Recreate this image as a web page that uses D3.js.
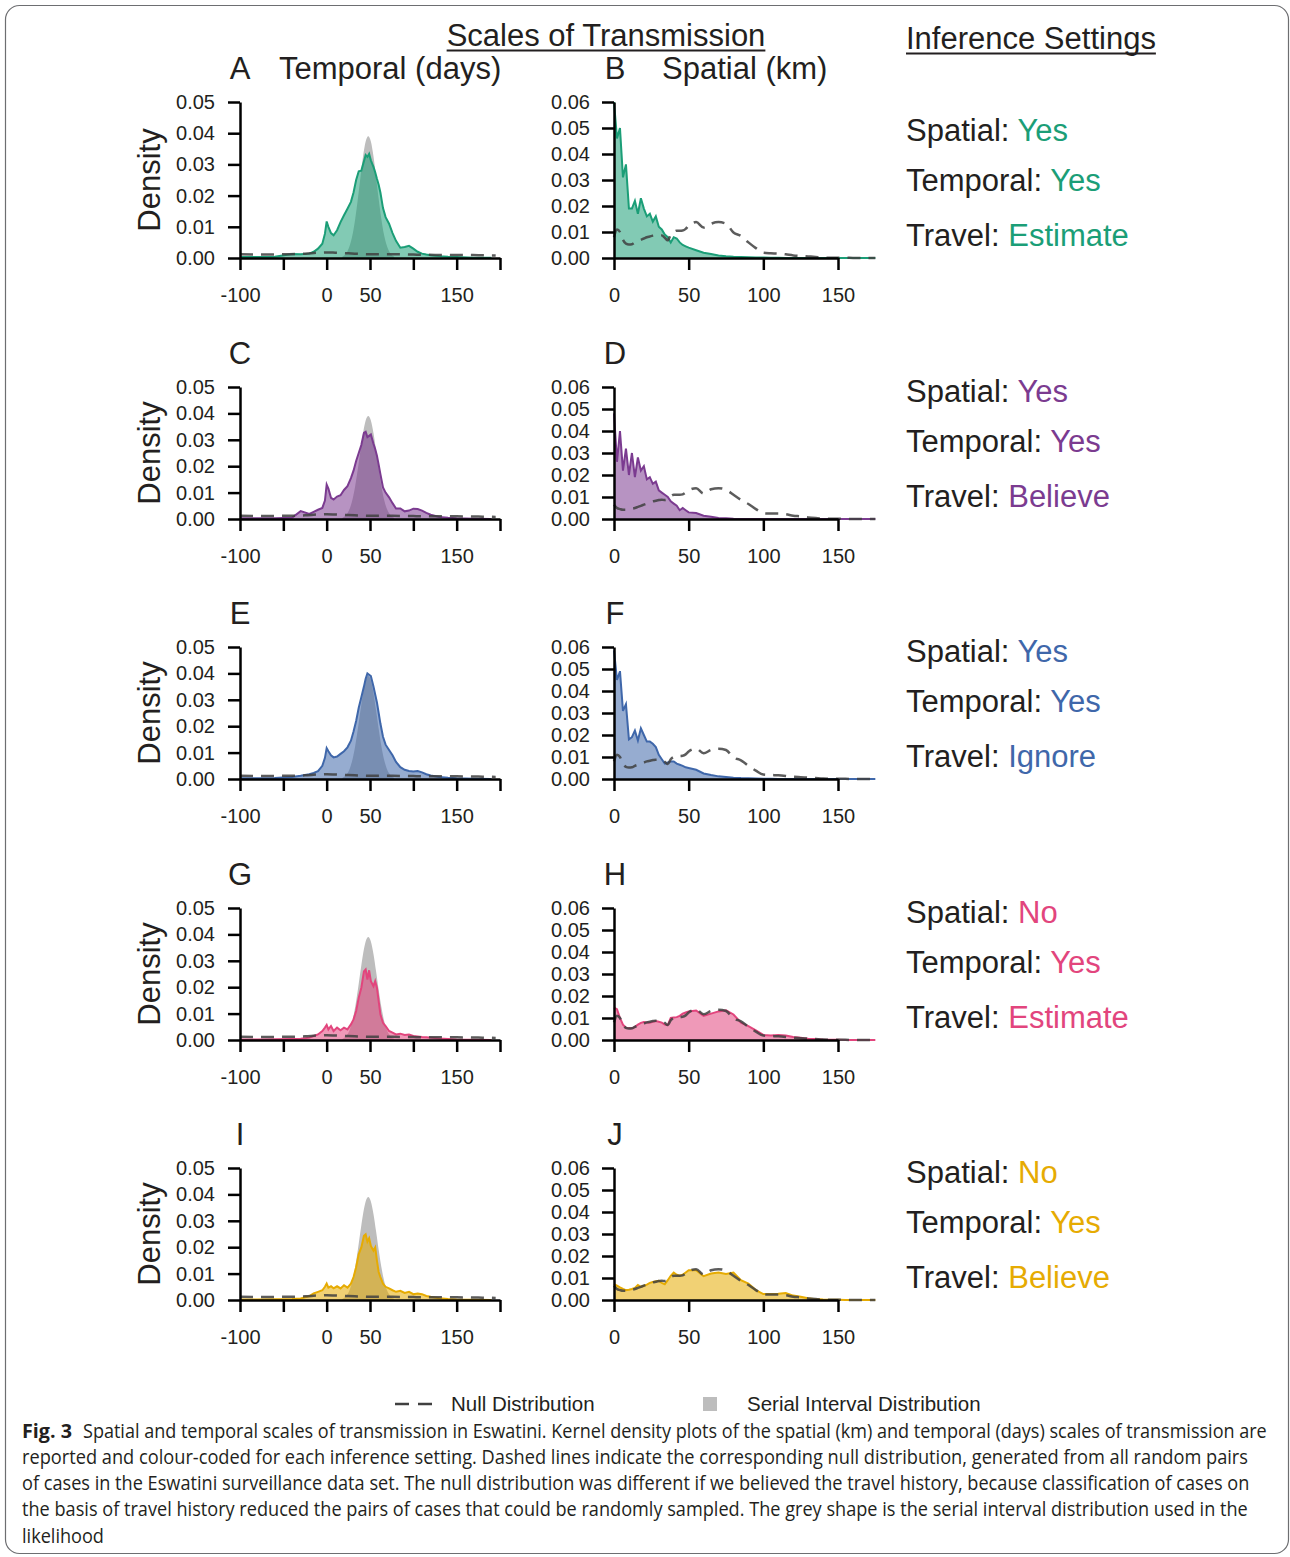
<!DOCTYPE html>
<html>
<head>
<meta charset="utf-8">
<script src="https://cdn.jsdelivr.net/npm/d3@7"></script>
<style>
  body { margin: 0; background: #fff; }
  svg text { font-family: "Liberation Sans", Arial, sans-serif; fill: #231f20; }
</style>
</head>
<body>
<svg id="fig" width="1290" height="1557"></svg>
<script>

// ---- data ----

// temporal panels (days between cases)
var temporalDays = [-100, -80, -60, -40, -30, -20, -15, -10, -5, -2, 0, 2, 5, 8, 12, 16, 20, 24, 28, 31,
  34, 37, 40, 43, 45, 47, 49, 51, 54, 56, 58, 60, 62, 65, 68, 72, 76, 80, 85, 90,
  95, 100, 105, 110, 115, 120, 130, 140, 150, 170, 190];

var temporalA = [0.0003, 0.0003, 0.0004, 0.0013, 0.0012, 0.0014, 0.002, 0.003, 0.0046, 0.0078,
  0.0117, 0.010, 0.008, 0.0073, 0.0089, 0.0115, 0.0137, 0.0158, 0.018, 0.021,
  0.025, 0.0278, 0.028, 0.031, 0.033, 0.0324, 0.0334, 0.0313, 0.0292, 0.0275,
  0.0254, 0.0235, 0.021, 0.016, 0.0131, 0.011, 0.008, 0.0055, 0.0033, 0.0035,
  0.0039, 0.003, 0.002, 0.0014, 0.0011, 0.0009, 0.0006, 0.0004, 0.0003, 0.0001, 0.0001];

var temporalC = [0.0003, 0.0003, 0.0003, 0.0005, 0.003, 0.0019, 0.0027, 0.0035, 0.0042, 0.007,
  0.013, 0.0115, 0.008, 0.0074, 0.0085, 0.009, 0.011, 0.0124, 0.0155, 0.0183,
  0.022, 0.025, 0.028, 0.0326, 0.033, 0.031, 0.0315, 0.032, 0.0285, 0.0265,
  0.024, 0.0206, 0.017, 0.012, 0.010, 0.0082, 0.006, 0.004, 0.004, 0.0029,
  0.0032, 0.0039, 0.0038, 0.0032, 0.0023, 0.0016, 0.0008, 0.0005, 0.0003, 0.0001, 0];

var temporalE = [0.0003, 0.0003, 0.0004, 0.0008, 0.0012, 0.0018, 0.0023, 0.003, 0.005, 0.008,
  0.0117, 0.0105, 0.009, 0.0082, 0.0085, 0.0095, 0.0105, 0.012, 0.0145, 0.018,
  0.022, 0.027, 0.031, 0.035, 0.038, 0.040, 0.0395, 0.039, 0.035, 0.032,
  0.029, 0.025, 0.021, 0.016, 0.013, 0.011, 0.009, 0.0065, 0.0045, 0.0035,
  0.003, 0.0028, 0.003, 0.0025, 0.0018, 0.0013, 0.0008, 0.0005, 0.0003, 0.0001, 0];

var temporalG = [0.0002, 0.0002, 0.0003, 0.0004, 0.0005, 0.0009, 0.0015, 0.0021, 0.0034, 0.0047,
  0.0057, 0.004, 0.0053, 0.0034, 0.0047, 0.0037, 0.0047, 0.004, 0.0059, 0.0078,
  0.011, 0.016, 0.0198, 0.026, 0.0267, 0.0229, 0.0264, 0.0223, 0.0204, 0.0223,
  0.0198, 0.0147, 0.0097, 0.0065, 0.0053, 0.0034, 0.0028, 0.0021, 0.0024, 0.0019,
  0.0021, 0.0015, 0.0013, 0.0011, 0.001, 0.0009, 0.0006, 0.0004, 0.0002, 0.0001, 0];

var temporalI = [0.0002, 0.0002, 0.0003, 0.0004, 0.0006, 0.0015, 0.0025, 0.0031, 0.0037, 0.005,
  0.0062, 0.0047, 0.0052, 0.0044, 0.0052, 0.0044, 0.0056, 0.0047, 0.0062, 0.0087,
  0.0124, 0.0174, 0.0199, 0.0243, 0.0249, 0.0221, 0.0234, 0.0205, 0.0187, 0.0199,
  0.0149, 0.0106, 0.0087, 0.0062, 0.005, 0.0044, 0.0037, 0.0031, 0.0035, 0.0027,
  0.0031, 0.0022, 0.0025, 0.0022, 0.0015, 0.0012, 0.0007, 0.0004, 0.0002, 0.0001, 0];

// serial interval (grey shape)
var serialDays = [18, 21, 24, 27, 30, 33, 36, 39, 42, 45, 48, 51, 54, 57, 60, 63, 66, 69, 72, 75, 78];
var serialDensity = [0.0004, 0.0010, 0.0022, 0.0043, 0.0077, 0.0127, 0.0190, 0.0260, 0.0326, 0.0373,
  0.0390, 0.0373, 0.0326, 0.0260, 0.0190, 0.0127, 0.0077, 0.0043, 0.0022, 0.0010, 0.0004];

// temporal null distribution
var nullTemporalDays = [-100, -75, -50, -25, -10, 0, 10, 25, 50, 75, 100, 125, 150, 175, 195];
var nullTemporal = [0.0012, 0.0011, 0.0012, 0.0014, 0.0017, 0.0018, 0.0017, 0.0015, 0.0012, 0.0012,
  0.0011, 0.0010, 0.0010, 0.0009, 0.0008];

// spatial panels (km between cases)
var spatialKm = [0, 2, 4, 6, 8, 10, 12, 14, 16, 18, 20, 22, 24, 26, 28, 30, 32, 34, 36, 38,
  40, 42, 44, 46, 48, 50, 55, 60, 65, 70, 75, 80, 85, 90, 95, 100, 105, 110, 115, 120,
  125, 130, 135, 140, 145, 150, 155, 160, 165, 170, 175];

var spatialB = [0.060, 0.046, 0.050, 0.031, 0.036, 0.019, 0.019, 0.022, 0.017, 0.023,
  0.019, 0.016, 0.017, 0.014, 0.016, 0.012, 0.011, 0.009, 0.008, 0.006,
  0.008, 0.0075, 0.006, 0.005, 0.0045, 0.004,
  0.003, 0.002, 0.0015, 0.001, 0.0007, 0.0005, 0.0004, 0.0003, 0.0002, 0.0002,
  0.0001, 0.0001, 0, 0, 0, 0, 0, 0, 0, 0, 0, 0, 0, 0, 0];

var spatialD = [0.048, 0.026, 0.040, 0.022, 0.032, 0.020, 0.030, 0.019, 0.028, 0.022,
  0.024, 0.018, 0.019, 0.016, 0.017, 0.013, 0.012, 0.011, 0.010, 0.008,
  0.007, 0.006, 0.004, 0.005, 0.004, 0.003,
  0.0027, 0.0015, 0.001, 0.0005, 0.0003, 0.0001, 0, 0, 0, 0,
  0, 0, 0, 0, 0, 0, 0, 0, 0, 0, 0, 0, 0, 0, 0];

var spatialF = [0.0585, 0.045, 0.049, 0.031, 0.034, 0.018, 0.019, 0.022, 0.0175, 0.023,
  0.020, 0.017, 0.017, 0.016, 0.0145, 0.011, 0.009, 0.007, 0.0075, 0.008,
  0.008, 0.007, 0.0065, 0.006, 0.0053, 0.005,
  0.0042, 0.0025, 0.0018, 0.0012, 0.0009, 0.0006, 0.0004, 0.0003, 0.0002, 0.0001,
  0.0001, 0, 0, 0, 0, 0, 0, 0, 0, 0, 0, 0, 0, 0, 0];

var spatialH = [0.0147, 0.014, 0.010, 0.007, 0.0056, 0.0054, 0.0053, 0.006, 0.007, 0.0078,
  0.0082, 0.008, 0.0079, 0.0083, 0.0086, 0.0083, 0.0079, 0.007, 0.0068, 0.010,
  0.0102, 0.0104, 0.011, 0.012, 0.0125, 0.013,
  0.0134, 0.011, 0.012, 0.013, 0.0135, 0.0116, 0.0079, 0.0063, 0.0044, 0.0023,
  0.002, 0.0023, 0.002, 0.0014, 0.001, 0.0006, 0.0004, 0.0002, 0.0001, 0.0001,
  0, 0, 0, 0, 0];

var spatialJ = [0.0072, 0.0065, 0.0057, 0.005, 0.0045, 0.0047, 0.005, 0.0055, 0.0068, 0.006,
  0.0065, 0.007, 0.0078, 0.0082, 0.0085, 0.0087, 0.0078, 0.0072, 0.009, 0.011,
  0.0125, 0.0115, 0.011, 0.0115, 0.0125, 0.0135,
  0.0135, 0.0108, 0.012, 0.0125, 0.0118, 0.0125, 0.009, 0.0075, 0.0045, 0.0027,
  0.0027, 0.0028, 0.0032, 0.002, 0.0015, 0.0008, 0.0004, 0.0002, 0.0001, 0.0001,
  0, 0, 0, 0, 0];

// spatial null distributions (travel estimated/ignored vs believed)
var nullSpatialEstimate = [0.008, 0.011, 0.010, 0.007, 0.0055, 0.0052, 0.0053, 0.006, 0.0065, 0.007,
  0.0075, 0.008, 0.0083, 0.0086, 0.0088, 0.0088, 0.0087, 0.0078, 0.0068, 0.009,
  0.010, 0.0105, 0.0105, 0.0106, 0.0112, 0.0125,
  0.0138, 0.0117, 0.0132, 0.0138, 0.0132, 0.0098, 0.0085, 0.006, 0.0038, 0.002,
  0.0018, 0.0017, 0.0014, 0.001, 0.0008, 0.0006, 0.0004, 0.0002, 0.0001, 0.0001,
  0.0001, 0, 0, 0, 0];

var nullSpatialBelieve = [0.0065, 0.005, 0.0045, 0.0042, 0.0042, 0.0045, 0.0047, 0.005, 0.0055, 0.006,
  0.0065, 0.007, 0.0075, 0.008, 0.0083, 0.0086, 0.0088, 0.0086, 0.009, 0.0103,
  0.011, 0.011, 0.011, 0.0112, 0.012, 0.013,
  0.014, 0.0116, 0.0135, 0.014, 0.0133, 0.011, 0.0087, 0.0068, 0.0045, 0.0026,
  0.0025, 0.0025, 0.0022, 0.0015, 0.0012, 0.0007, 0.0004, 0.0002, 0.0001, 0.0001,
  0.0001, 0, 0, 0, 0];

// inference settings per row
var rowLetters = [["A", "B"], ["C", "D"], ["E", "F"], ["G", "H"], ["I", "J"]];
var spatialSetting = ["Yes", "Yes", "Yes", "No", "No"];
var temporalSetting = ["Yes", "Yes", "Yes", "Yes", "Yes"];
var travelSetting = ["Estimate", "Believe", "Ignore", "Estimate", "Believe"];
var rowColors = ["#1b9e77", "#7b3b90", "#3f67aa", "#e2457d", "#e6ab02"];

var temporalSeries = [temporalA, temporalC, temporalE, temporalG, temporalI];
var spatialSeries = [spatialB, spatialD, spatialF, spatialH, spatialJ];
var spatialNulls = [nullSpatialEstimate, nullSpatialBelieve, nullSpatialEstimate, nullSpatialEstimate, nullSpatialBelieve];

var temporalTicks = [-100, -50, 0, 50, 100, 150, 200];
var temporalTickLabels = [-100, 0, 50, 150];
var spatialTicks = [0, 50, 100, 150];

var captionLines = [
  "Spatial and temporal scales of transmission in Eswatini. Kernel density plots of the spatial (km) and temporal (days) scales of transmission are",
  "reported and colour-coded for each inference setting. Dashed lines indicate the corresponding null distribution, generated from all random pairs",
  "of cases in the Eswatini surveillance data set. The null distribution was different if we believed the travel history, because classification of cases on",
  "the basis of travel history reduced the pairs of cases that could be randomly sampled. The grey shape is the serial interval distribution used in the",
  "likelihood"
];

// ---- layout ----
var rowBottom = [258, 519, 779, 1040, 1300];
var rowHeight = [156, 132, 132, 132, 132];
var textColor = "#231f20";

var svg = d3.select("#fig");

svg.append("rect")
  .attr("x", 5.5).attr("y", 5.5)
  .attr("width", 1283).attr("height", 1548)
  .attr("rx", 14)
  .attr("fill", "none")
  .attr("stroke", "#6d6e71")
  .attr("stroke-width", 1.2);

function styleAxis(g) {
  g.select(".domain").attr("stroke", "#000").attr("stroke-width", 2.5);
  g.selectAll(".tick line").attr("stroke", "#000").attr("stroke-width", 2.5);
  g.selectAll(".tick text")
    .attr("fill", textColor)
    .style("font-family", "'Liberation Sans', Arial, sans-serif")
    .style("font-size", "20px");
}

function underlined(x, y, label, anchor) {
  var t = svg.append("text")
    .attr("x", x).attr("y", y)
    .attr("text-anchor", anchor)
    .style("font-size", "31px")
    .text(label);
  var b = t.node().getBBox();
  svg.append("line")
    .attr("x1", b.x).attr("x2", b.x + b.width)
    .attr("y1", y + 4.5).attr("y2", y + 4.5)
    .attr("stroke", textColor)
    .attr("stroke-width", 2);
}

underlined(606, 46, "Scales of Transmission", "middle");
underlined(906, 49, "Inference Settings", "start");

rowBottom.forEach(function (bottom, i) {
  var top = bottom - rowHeight[i];
  var color = rowColors[i];

  // ---------- temporal ----------
  var xT = d3.scaleLinear().domain([-100, 200]).range([240, 500]);
  var yT = d3.scaleLinear().domain([0, 0.05]).range([bottom, top]);
  var gT = svg.append("g");

  var serialArea = d3.area()
    .x(function (d) { return xT(d[0]); })
    .y0(yT(0))
    .y1(function (d) { return yT(d[1]); })
    .curve(d3.curveMonotoneX);
  gT.append("path")
    .datum(d3.zip(serialDays, serialDensity))
    .attr("d", serialArea)
    .attr("fill", "#bdbdbd");

  var tArea = d3.area()
    .x(function (d) { return xT(d[0]); })
    .y0(yT(0))
    .y1(function (d) { return yT(d[1]); });
  var tLine = d3.line()
    .x(function (d) { return xT(d[0]); })
    .y(function (d) { return yT(d[1]); });
  var tData = d3.zip(temporalDays, temporalSeries[i]);
  gT.append("path").datum(tData).attr("d", tArea)
    .attr("fill", color).attr("fill-opacity", 0.55);
  gT.append("path").datum(tData).attr("d", tLine)
    .attr("fill", "none").attr("stroke", color).attr("stroke-width", 2);

  var nullLineT = d3.line()
    .x(function (d) { return xT(d[0]); })
    .y(function (d) { return yT(d[1]); })
    .curve(d3.curveMonotoneX);
  gT.append("path").datum(d3.zip(nullTemporalDays, nullTemporal))
    .attr("d", nullLineT)
    .attr("fill", "none").attr("stroke", "#404040").attr("stroke-opacity", 0.85)
    .attr("stroke-width", 2.5).attr("stroke-dasharray", "13,8");

  gT.append("g")
    .attr("transform", "translate(0," + bottom + ")")
    .call(d3.axisBottom(xT).tickValues(temporalTicks).tickSize(12).tickSizeOuter(0).tickPadding(18)
      .tickFormat(function (d) { return temporalTickLabels.indexOf(d) >= 0 ? d : ""; }))
    .call(styleAxis);
  gT.append("g")
    .attr("transform", "translate(240,0)")
    .call(d3.axisLeft(yT).tickValues([0, 0.01, 0.02, 0.03, 0.04, 0.05]).tickSize(12).tickSizeOuter(0).tickPadding(13)
      .tickFormat(d3.format(".2f")))
    .call(styleAxis);

  svg.append("text")
    .attr("transform", "translate(160," + ((top + bottom) / 2) + ") rotate(-90)")
    .attr("text-anchor", "middle")
    .style("font-size", "31px")
    .text("Density");

  // ---------- spatial ----------
  var xS = d3.scaleLinear().domain([0, 150]).range([614, 838]);
  var yS = d3.scaleLinear().domain([0, 0.06]).range([bottom, top]);
  var gS = svg.append("g");

  var sData = d3.zip(spatialKm, spatialSeries[i]);
  var sArea = d3.area()
    .x(function (d) { return xS(d[0]); })
    .y0(yS(0))
    .y1(function (d) { return yS(d[1]); });
  var sLine = d3.line()
    .x(function (d) { return xS(d[0]); })
    .y(function (d) { return yS(d[1]); });
  gS.append("path").datum(sData).attr("d", sArea)
    .attr("fill", color).attr("fill-opacity", 0.55);
  gS.append("path").datum(sData).attr("d", sLine)
    .attr("fill", "none").attr("stroke", color).attr("stroke-width", 2);

  var nullLineS = d3.line()
    .x(function (d) { return xS(d[0]); })
    .y(function (d) { return yS(d[1]); })
    .curve(d3.curveMonotoneX);
  gS.append("path").datum(d3.zip(spatialKm, spatialNulls[i]))
    .attr("d", nullLineS)
    .attr("fill", "none").attr("stroke", "#404040").attr("stroke-opacity", 0.85)
    .attr("stroke-width", 2.5).attr("stroke-dasharray", "13,8");

  gS.append("g")
    .attr("transform", "translate(0," + bottom + ")")
    .call(d3.axisBottom(xS).tickValues(spatialTicks).tickSize(12).tickSizeOuter(0).tickPadding(18)
      .tickFormat(d3.format("d")))
    .call(styleAxis);
  gS.append("g")
    .attr("transform", "translate(614,0)")
    .call(d3.axisLeft(yS).tickValues([0, 0.01, 0.02, 0.03, 0.04, 0.05, 0.06]).tickSize(12).tickSizeOuter(0).tickPadding(12)
      .tickFormat(d3.format(".2f")))
    .call(styleAxis);

  // panel letters (and column headings in the first row)
  svg.append("text").attr("x", 240).attr("y", top - 23)
    .attr("text-anchor", "middle").style("font-size", "31px").text(rowLetters[i][0]);
  svg.append("text").attr("x", 615).attr("y", top - 23)
    .attr("text-anchor", "middle").style("font-size", "31px").text(rowLetters[i][1]);
  if (i === 0) {
    svg.append("text").attr("x", 279).attr("y", top - 23)
      .style("font-size", "31px").text("Temporal (days)");
    svg.append("text").attr("x", 662).attr("y", top - 23)
      .style("font-size", "31px").text("Spatial (km)");
  }

  // inference settings
  var settings = [["Spatial: ", spatialSetting[i], -117], ["Temporal: ", temporalSetting[i], -67], ["Travel: ", travelSetting[i], -12]];
  settings.forEach(function (s) {
    var t = svg.append("text").attr("x", 906).attr("y", bottom + s[2]).style("font-size", "31px");
    t.append("tspan").attr("fill", textColor).text(s[0]);
    t.append("tspan").attr("fill", color).style("fill", color).text(s[1]);
  });
});

// ---- legend ----
svg.append("line")
  .attr("x1", 395).attr("x2", 432).attr("y1", 1404).attr("y2", 1404)
  .attr("stroke", "#404040").attr("stroke-width", 2.5).attr("stroke-dasharray", "14,9");
svg.append("text").attr("x", 451).attr("y", 1411).style("font-size", "20.5px").text("Null Distribution");
svg.append("rect").attr("x", 703).attr("y", 1397).attr("width", 14).attr("height", 14).attr("fill", "#bdbdbd");
svg.append("text").attr("x", 747).attr("y", 1411).style("font-size", "20.5px").text("Serial Interval Distribution");

// ---- caption ----
// the caption face is condensed, so each line is squeezed horizontally to its width
var captionY = [1438, 1464, 1490, 1516, 1543];
var captionStart = [83, 22, 22, 22, 22];
var captionEnd = [1268, 1249, 1250, 1248, 104];

function squeezed(text, x0, x1, y, bold) {
  var t = svg.append("text")
    .attr("x", 0).attr("y", 0)
    .style("font-family", "'Open Sans', 'Noto Sans', sans-serif")
    .style("font-weight", bold ? "bold" : "normal")
    .style("font-size", "19.5px")
    .text(text);
  var w = t.node().getComputedTextLength();
  t.attr("transform", "translate(" + x0 + "," + y + ") scale(" + ((x1 - x0) / w) + ",1)");
}

squeezed("Fig. 3", 22, 72, captionY[0], true);
captionLines.forEach(function (line, i) {
  squeezed(line, captionStart[i], captionEnd[i], captionY[i], false);
});

</script>
</body>
</html>
